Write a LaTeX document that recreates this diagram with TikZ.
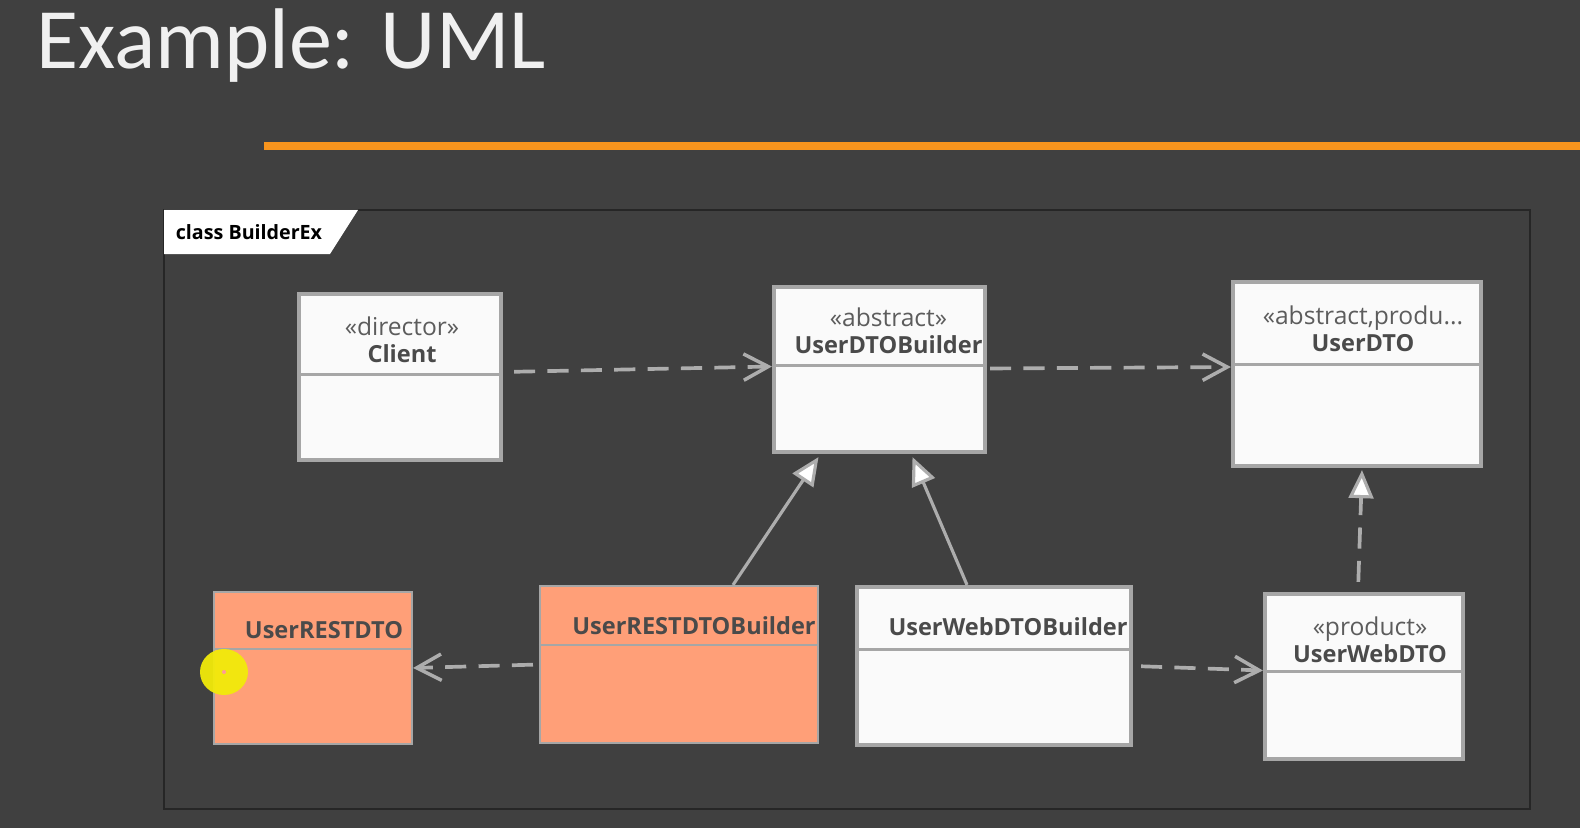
\documentclass[tikz,border=0pt]{standalone}
\usepackage{fontspec}
\setmainfont{Open Sans}
\newfontfamily\titlefont{Carlito}
\usepackage{tikz}
\usetikzlibrary{arrows.meta, positioning, calc}

\definecolor{slidebg}{HTML}{404040}
\definecolor{framedark}{HTML}{262626}
\definecolor{accent}{HTML}{F7941D}
\definecolor{boxline}{HTML}{A6A6A6}
\definecolor{boxfill}{HTML}{FAFAFA}
\definecolor{salmon}{HTML}{FF9F78}
\definecolor{linkgrey}{HTML}{ADADAD}
\definecolor{stereogrey}{HTML}{5C5C5C}
\definecolor{namegrey}{HTML}{4A4A4A}
\definecolor{marker}{HTML}{F2EA0A}

\begin{document}
\begin{tikzpicture}[x=0.02cm, y=-0.02cm,
    cls/.style={rectangle, draw=boxline, line width=2.4pt, fill=boxfill, inner sep=0pt},
    hot/.style={cls, fill=salmon, line width=1.2pt},
    divline/.style={draw=boxline, line width=1.7pt},
    head/.style={align=center, font=\fontsize{14}{15.5}\selectfont, text=stereogrey, inner sep=0pt},
    clsname/.style={font=\bfseries\fontsize{13.4}{15.5}\selectfont},
    dep/.style={-{Straight Barb[length=14pt, width=15pt, line width=2pt]}, draw=linkgrey, line width=2.1pt, dash pattern=on 12pt off 7pt},
    gen/.style={-{Triangle[open, length=16pt, width=14pt, fill=white, line width=1.8pt]}, draw=linkgrey, line width=1.8pt},
    real/.style={gen, line width=2.1pt, dash pattern=on 12pt off 7pt}
]
    % slide
    \fill[slidebg] (0,0) rectangle (1580,828);
    \useasboundingbox (0,0) rectangle (1580,828);
    \node[anchor=base west, inner sep=0pt, text=white!94!black, font=\titlefont\fontsize{49}{49}\selectfont] (title) at (36,69) {Example: UML};
    \fill[accent] (264,142) rectangle (1580,150);

    % diagram frame
    \draw[framedark, line width=1.2pt] (164,210) rectangle (1530,809);
    \fill[white] (164,210) -- (358,210) -- (330,254) -- (164,254) -- cycle;
    \node[font=\bfseries\fontsize{11.2}{12}\selectfont, text=black, inner sep=0pt] (frametag) at (249,232) {class BuilderEx};

    % classes
    \node[cls, minimum width=4.04cm, minimum height=3.32cm] (client) at (400,377) {};
    \node[cls, minimum width=4.22cm, minimum height=3.30cm] (udb) at (879.5,369.5) {};
    \node[cls, minimum width=4.96cm, minimum height=3.68cm] (udto) at (1357,374) {};
    \node[hot, minimum width=3.96cm, minimum height=3.04cm] (rd) at (313,668) {};
    \node[hot, minimum width=5.56cm, minimum height=3.14cm] (rb) at (679,664.5) {};
    \node[cls, minimum width=5.48cm, minimum height=3.16cm] (wb) at (994,666) {};
    \node[cls, minimum width=3.96cm, minimum height=3.30cm] (wd) at (1364,676.5) {};

    \draw[divline] ($(client.north west)+(0,83)$) -- ($(client.north east)+(0,83)$);
    \draw[divline] ($(udb.north west)+(0,81)$) -- ($(udb.north east)+(0,81)$);
    \draw[divline] ($(udto.north west)+(0,85)$) -- ($(udto.north east)+(0,85)$);
    \draw[divline, line width=1.2pt] ($(rd.north west)+(0,58)$) -- ($(rd.north east)+(0,58)$);
    \draw[divline, line width=1.2pt] ($(rb.north west)+(0,60)$) -- ($(rb.north east)+(0,60)$);
    \draw[divline] ($(wb.north west)+(0,65)$) -- ($(wb.north east)+(0,65)$);
    \draw[divline] ($(wd.north west)+(0,80)$) -- ($(wd.north east)+(0,80)$);

    \node[head] (clienthd) at ($(client.north)+(2,47.5)$) {«director»\\\textcolor{namegrey}{\bfseries\fontsize{13.4}{15.5}\selectfont Client}};
    \node[head] (udbhd) at ($(udb.north)+(9,45.5)$) {«abstract»\\\textcolor{namegrey}{\bfseries\fontsize{13.4}{15.5}\selectfont UserDTOBuilder}};
    \node[head] (udtohd) at ($(udto.north)+(6,48.5)$) {«abstract,produ...\\\textcolor{namegrey}{\bfseries\fontsize{13.4}{15.5}\selectfont UserDTO}};
    \node[head, clsname, text=namegrey] (rdhd) at ($(rd.north)+(11,39)$) {UserRESTDTO};
    \node[head, clsname, text=namegrey] (rbhd) at ($(rb.north)+(15,41)$) {UserRESTDTOBuilder};
    \node[head, clsname, text=namegrey] (wbhd) at ($(wb.north)+(14,42)$) {UserWebDTOBuilder};
    \node[head] (wdhd) at ($(wd.north)+(6,47.5)$) {«product»\\\textcolor{namegrey}{\bfseries\fontsize{13.4}{15.5}\selectfont UserWebDTO}};

    % relations
    \draw[dep, shorten <=0.22cm] ($(client.east)+(0,-5)$) -- ($(udb.west)+(0,-3)$);
    \draw[dep, shorten <=0.06cm] ($(udb.east)+(0,-1)$) -- ($(udto.west)+(0,-7)$);
    \draw[dep, shorten <=0.12cm] (rb.west) -- (rd.east);
    \draw[dep, shorten <=0.16cm] (wb.east) -- ($(wd.west)+(0,-6)$);
    \draw[gen] ($(rb.north)+(54,0)$) -- ($(udb.south)+(-61,3)$);
    \draw[gen] ($(wb.north)+(-27,0)$) -- ($(udb.south)+(33,3)$);
    \draw[real, shorten <=0.2cm] ($(wd.north)+(-6,0)$) -- ($(udto.south)+(5,2)$);

    % pointer highlight
    \fill[marker, opacity=0.95] (224,672) ellipse [x radius=24, y radius=23];
    \fill[pink!80!red] (224,672) circle [radius=2];
\end{tikzpicture}
\end{document}
